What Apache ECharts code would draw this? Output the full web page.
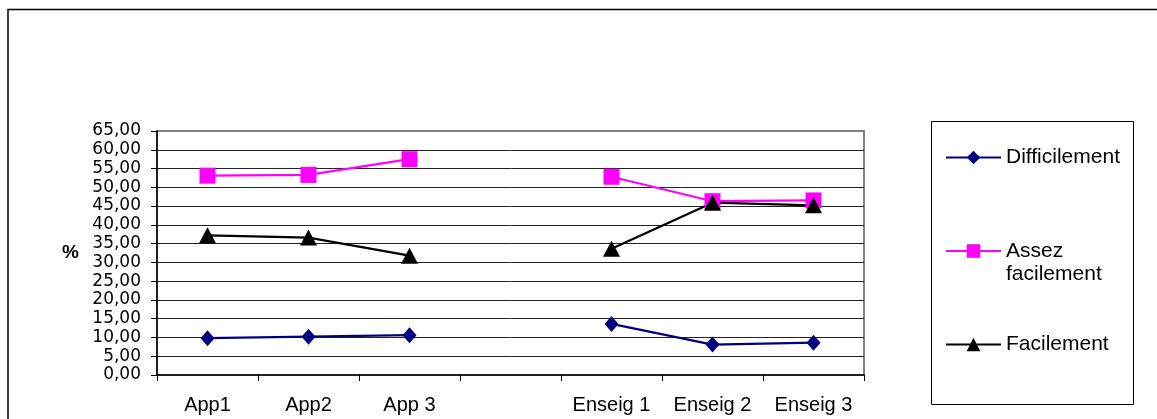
<!DOCTYPE html>
<html>
<head>
<meta charset="utf-8">
<script src="https://cdn.jsdelivr.net/npm/echarts@6/dist/echarts.min.js"></script>
<style>
  html, body { margin: 0; padding: 0; background: #fff; }
  #chart { width: 1157px; height: 419px; }
</style>
</head>
<body>
<div id="chart"></div>
<script>
// Categories along the x axis (the blank one separates the two groups)
const categories = ['App1', 'App2', 'App 3', '', 'Enseig 1', 'Enseig 2', 'Enseig 3'];

// Percentages per series
const difficilement = [9.8, 10.2, 10.6, null, 13.6, 8.1, 8.6];
const assezFacilement = [53.1, 53.3, 57.5, null, 52.8, 46.3, 46.5];
const facilement = [37.2, 36.6, 31.8, null, 33.6, 45.9, 45.2];

const seriesNames = ['Difficilement', 'Assez facilement', 'Facilement'];

const FONT = '"Liberation Sans", Arial, sans-serif';

const chart = echarts.init(document.getElementById('chart'), null, { renderer: 'canvas' });

function lineSeries(name, data, symbol, size, color) {
  return {
    name: name,
    type: 'line',
    data: data,
    symbol: symbol,
    symbolSize: size,
    showAllSymbol: true,
    connectNulls: false,
    lineStyle: { color: color, width: 2.2 },
    itemStyle: { color: color },
    emphasis: { disabled: true },
    animation: false
  };
}

chart.setOption({
  backgroundColor: '#fff',
  animation: false,
  textStyle: { fontFamily: FONT },
  graphic: [
    // outer chart frame
    {
      type: 'rect',
      shape: { x: 8, y: 9.5, width: 1300, height: 600 },
      style: { fill: 'none', stroke: '#000', lineWidth: 1.5 },
      silent: true, z: -10
    },
    // legend frame
    {
      type: 'rect',
      shape: { x: 931.5, y: 121.5, width: 202, height: 283 },
      style: { fill: '#fff', stroke: '#000', lineWidth: 1 },
      silent: true, z: -5
    }
  ],
  grid: {
    left: 157, right: 293, top: 131, bottom: 44,
    show: true, borderColor: '#808080', borderWidth: 2,
    backgroundColor: 'transparent'
  },
  legend: {
    orient: 'vertical',
    left: 945,
    top: 146,
    padding: 0,
    itemWidth: 55,
    itemHeight: 17,
    itemGap: 47.5,
    data: seriesNames,
    formatter: function (name) {
      return name === 'Assez facilement' ? '\nAssez\nfacilement' : name;
    },
    textStyle: { fontFamily: FONT, fontSize: 21, color: '#000', lineHeight: 23 },
    selectedMode: false
  },
  xAxis: {
    type: 'category',
    data: categories,
    boundaryGap: true,
    axisLine: { show: true, lineStyle: { color: '#000', width: 1.5 } },
    axisTick: { show: true, length: 6, inside: false, interval: 0, lineStyle: { color: '#000' } },
    axisLabel: { interval: 0, margin: 20, fontFamily: FONT, fontSize: 20, color: '#000' },
    splitLine: { show: false }
  },
  yAxis: {
    type: 'value',
    min: 0, max: 65, interval: 5,
    name: '%',
    nameLocation: 'middle',
    nameRotate: 0,
    nameGap: 78,
    nameTextStyle: { fontFamily: FONT, fontSize: 19, fontWeight: 'bold', color: '#000' },
    axisLine: { show: true, lineStyle: { color: '#000', width: 1.5 } },
    axisTick: { show: true, length: 6, inside: false, lineStyle: { color: '#000' } },
    axisLabel: {
      margin: 16,
      fontFamily: '"DejaVu Sans", sans-serif',
      fontSize: 17,
      color: '#000',
      formatter: function (v) { return v.toFixed(2).replace('.', ','); }
    },
    splitLine: { show: true, showMaxLine: false, showMinLine: false, lineStyle: { color: '#222', width: 1 } }
  },
  series: [
    lineSeries(seriesNames[0], difficilement, 'diamond', [14, 16], '#000080'),
    lineSeries(seriesNames[1], assezFacilement, 'rect', [16, 16], '#FF00FF'),
    lineSeries(seriesNames[2], facilement, 'triangle', [17, 16], '#000000')
  ]
});
</script>
</body>
</html>
